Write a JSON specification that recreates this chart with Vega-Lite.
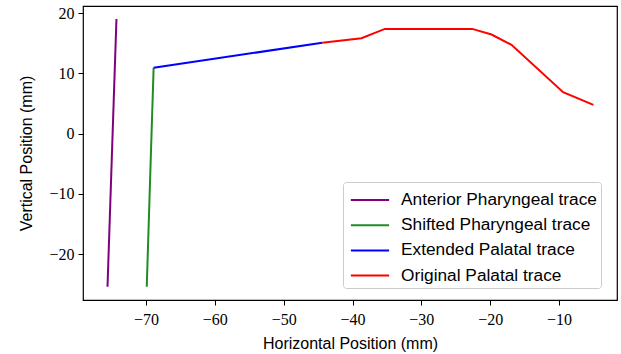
{
  "$schema": "https://vega.github.io/schema/vega-lite/v6.json",
  "width": 534,
  "height": 294,
  "autosize": "none",
  "padding": {"left": 83, "top": 6, "right": 4, "bottom": 54},
  "background": "white",
  "config": {
    "view": {"stroke": "black", "strokeWidth": 1.2}
  },
  "data": {
    "values": [
      {"trace": "Anterior Pharyngeal trace", "i": 0, "x": -75.6, "y": -25.4},
      {"trace": "Anterior Pharyngeal trace", "i": 1, "x": -74.3, "y": 19.05},
      {"trace": "Shifted Pharyngeal trace", "i": 0, "x": -69.9, "y": -25.4},
      {"trace": "Shifted Pharyngeal trace", "i": 1, "x": -68.9, "y": 10.95},
      {"trace": "Extended Palatal trace", "i": 0, "x": -68.9, "y": 10.95},
      {"trace": "Extended Palatal trace", "i": 1, "x": -44.4, "y": 15.1},
      {"trace": "Original Palatal trace", "i": 0, "x": -44.4, "y": 15.1},
      {"trace": "Original Palatal trace", "i": 1, "x": -38.7, "y": 15.86},
      {"trace": "Original Palatal trace", "i": 2, "x": -35.3, "y": 17.4},
      {"trace": "Original Palatal trace", "i": 3, "x": -22.6, "y": 17.4},
      {"trace": "Original Palatal trace", "i": 4, "x": -19.8, "y": 16.47},
      {"trace": "Original Palatal trace", "i": 5, "x": -16.9, "y": 14.76},
      {"trace": "Original Palatal trace", "i": 6, "x": -9.4, "y": 6.9},
      {"trace": "Original Palatal trace", "i": 7, "x": -5.0, "y": 4.8}
    ]
  },
  "mark": {"type": "line", "strokeWidth": 2},
  "encoding": {
    "x": {
      "field": "x", "type": "quantitative",
      "scale": {"domain": [-79.16, -1.57], "nice": false, "zero": false},
      "axis": {
        "title": "Horizontal Position (mm)",
        "values": [-70, -60, -50, -40, -30, -20, -10],
        "format": "d",
        "grid": false,
        "domain": false,
        "tickColor": "black", "tickSize": 5, "tickWidth": 1,
        "labelFont": "Liberation Serif", "labelFontSize": 16, "labelColor": "black", "labelPadding": 6,
        "titleFont": "Liberation Sans", "titleFontSize": 16, "titleFontWeight": "normal", "titleColor": "black", "titlePadding": 8
      }
    },
    "y": {
      "field": "y", "type": "quantitative",
      "scale": {"domain": [-27.6, 21.2], "nice": false, "zero": false},
      "axis": {
        "title": "Vertical Position (mm)",
        "values": [-20, -10, 0, 10, 20],
        "format": "d",
        "grid": false,
        "domain": false,
        "tickColor": "black", "tickSize": 5, "tickWidth": 1,
        "labelFont": "Liberation Serif", "labelFontSize": 16, "labelColor": "black", "labelPadding": 4,
        "titleFont": "Liberation Sans", "titleFontSize": 16, "titleFontWeight": "normal", "titleColor": "black", "titlePadding": 14
      }
    },
    "color": {
      "field": "trace", "type": "nominal",
      "scale": {
        "domain": ["Anterior Pharyngeal trace", "Shifted Pharyngeal trace", "Extended Palatal trace", "Original Palatal trace"],
        "range": ["#800080", "#228b22", "#0000ff", "#ff0000"]
      },
      "legend": {
        "title": null,
        "orient": "none",
        "legendX": 260,
        "legendY": 176,
        "symbolType": "M-1.5,0L1.5,0",
        "symbolSize": 650,
        "symbolStrokeWidth": 2,
        "symbolOffset": 9,
        "labelFont": "Liberation Sans",
        "labelFontSize": 17.3,
        "labelColor": "black",
        "labelOffset": 17,
        "labelLimit": 400,
        "rowPadding": 2.2,
        "padding": 4,
        "fillColor": "white",
        "strokeColor": "#cccccc",
        "cornerRadius": 3
      }
    },
    "order": {"field": "i", "type": "quantitative"}
  }
}
